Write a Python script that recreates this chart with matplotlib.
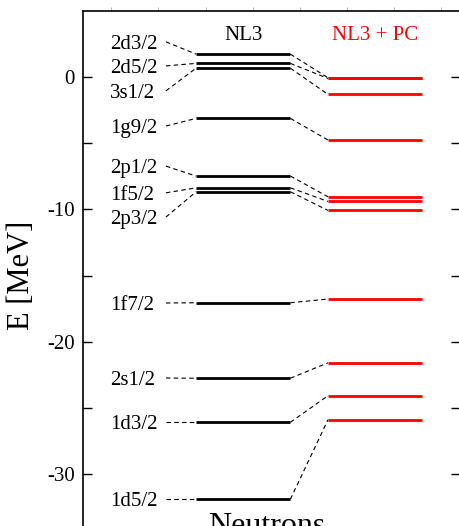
import matplotlib
matplotlib.use('Agg')
import matplotlib.pyplot as plt
import numpy as np

plt.rcParams['font.family'] = ['Liberation Serif', 'DejaVu Serif']

# neutron single-particle levels (MeV)
states = ['2d3/2', '2d5/2', '3s1/2', '1g9/2', '2p1/2', '1f5/2', '2p3/2',
          '1f7/2', '2s1/2', '1d3/2', '1d5/2']
e_nl3 = [1.74, 1.04, 0.68, -3.12, -7.48, -8.37, -8.67,
         -17.06, -22.77, -26.10, -31.92]
e_pc = [-0.05, -0.10, -1.31, -4.76, -9.05, -9.40, -10.08,
        -16.78, -21.60, -24.09, -25.90]
# where the state labels sit (spread out where levels crowd)
label_pos = [2.67, 0.85, -1.04, -3.70, -6.73, -8.75, -10.58,
             -17.08, -22.75, -26.10, -31.92]

fig = plt.figure(figsize=(4.59, 5.26), dpi=100)
ax = fig.add_axes([83/459, 1 - 540/526, 377/459, 529/526])

x_nl3 = (1.2, 2.2)
x_pc = (2.6, 3.6)

for name, a, b, ly in zip(states, e_nl3, e_pc, label_pos):
    ax.plot(x_nl3, [a, a], color='black', lw=2, solid_capstyle='butt')
    ax.plot(x_pc, [b, b], color='red', lw=2, solid_capstyle='butt')
    ax.plot([x_nl3[1], x_pc[0]], [a, b], color='black', lw=0.8,
            dashes=(4, 3))
    ax.plot([0.88, x_nl3[0]], [ly, a], color='black', lw=0.8, dashes=(4, 3))
    ax.text(0.29, ly - 0.2, name, fontsize=15, ha='left', va='center')

ax.text(1.7, 3.17, 'NL3', fontsize=15, ha='center', va='center')
ax.text(3.1, 3.17, 'NL3 + PC', fontsize=15, ha='center', va='center',
        color='red')
ax.text(1.95, -32.9, 'Neutrons', fontsize=23, ha='center', va='top')

ax.set_xlim(0, 4)
ax.set_ylim(-35, 5)
ax.set_yticks([-30, -20, -10, 0])
ax.set_yticklabels(['-30', '-20', '-10', '0'])
ax.set_yticks([-25, -15, -5], minor=True)
ax.tick_params(axis='y', which='both', direction='in', length=6.5,
               width=1, right=True, labelsize=15, pad=6)
ax.set_xticks(np.arange(0.3, 4, 0.5))
ax.tick_params(axis='x', which='both', direction='out', length=3,
               width=0.5, color='0.6', top=True, bottom=False,
               labelbottom=False)
for s in ax.spines.values():
    s.set_linewidth(1.2)

ax.set_ylabel('E [MeV]', fontsize=22)
ax.yaxis.set_label_coords(-0.125, 0.5)

fig.savefig('out.png', dpi=100)
